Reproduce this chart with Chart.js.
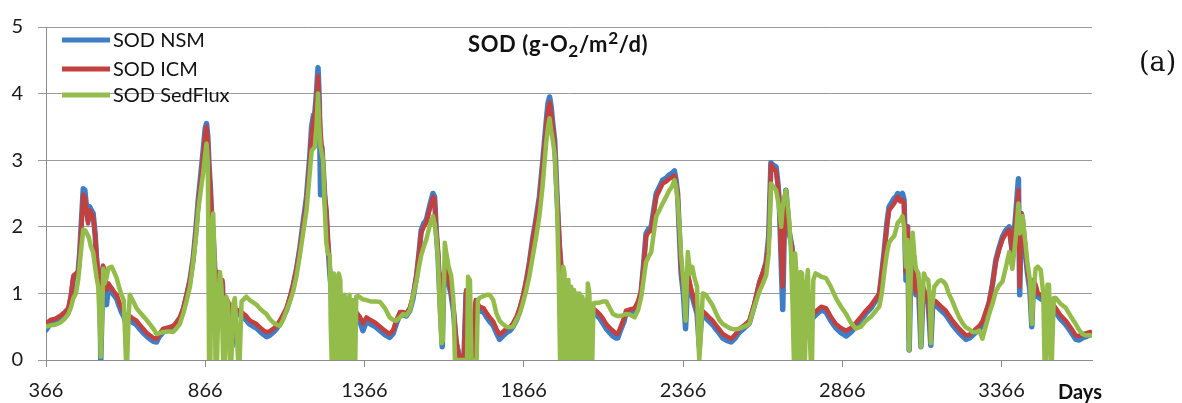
<!DOCTYPE html>
<html>
<head>
<meta charset="utf-8">
<script src="https://cdn.jsdelivr.net/npm/chart.js@4.4.1/dist/chart.umd.min.js"></script>
<style>
html,body{margin:0;padding:0;background:#fff;}
#wrap{position:relative;width:1182px;height:403px;overflow:hidden;background:#fff;}
#c{position:absolute;left:0;top:0;}
#title{position:absolute;left:468px;top:29px;font-family:Lato,"Open Sans",sans-serif;font-weight:bold;font-size:22px;letter-spacing:0.6px;color:#111;white-space:nowrap;line-height:30px;}
#title sub{font-size:0.78em;vertical-align:-0.28em;line-height:0;}
#title sup{font-size:0.78em;vertical-align:0.45em;line-height:0;}
#panel{position:absolute;left:1139px;top:46px;font-family:"DejaVu Serif","Liberation Serif",serif;font-size:27px;line-height:32px;color:#111;white-space:nowrap;}
#days{position:absolute;left:1058px;top:379px;font-family:Lato,"Open Sans",sans-serif;font-weight:bold;font-size:20px;color:#111;white-space:nowrap;}
</style>
</head>
<body>
<div id="wrap">
<canvas id="c" width="1182" height="403"></canvas>
<div id="title">SOD (g-O<sub>2</sub>/m<sup>2</sup>/d)</div>
<div id="panel">(a)</div>
<div id="days">Days</div>
</div>
<script>
// ---- data: [day, SOD] ----
const xTickValues = [366, 866, 1366, 1866, 2366, 2866, 3366];
const yTickValues = [0, 1, 2, 3, 4, 5];
const seriesLabels = ['SOD NSM', 'SOD ICM', 'SOD SedFlux'];

const sodNSM = [
[366,0.45],[380,0.55],[395,0.57],[410,0.60],[425,0.66],[436,0.72],[445,0.95],[452,1.22],[460,1.28],[467,1.32],
[472,1.62],[478,2.15],[483,2.57],[488,2.55],[493,2.30],[498,2.10],[503,2.30],[508,2.25],[514,2.20],[520,1.90],
[525,1.50],[530,1.25],[535,1.10],[538,0.00],[545,1.38],[550,1.30],[556,0.83],[562,1.10],[572,1.02],[580,0.97],
[588,0.92],[595,0.82],[603,0.72],[610,0.66],[617,0.55],[624,0.62],[629,0.60],[640,0.56],[650,0.53],[660,0.47],
[671,0.41],[682,0.36],[692,0.32],[703,0.28],[713,0.27],[720,0.34],[734,0.42],[750,0.45],[765,0.47],[775,0.53],
[786,0.60],[797,0.75],[807,0.95],[818,1.20],[828,1.52],[836,1.92],[844,2.40],[852,2.78],[859,3.12],[866,3.48],
[870,3.55],[874,3.35],[878,2.90],[882,2.60],[886,2.15],[890,1.95],[895,1.45],[900,0.90],[905,1.28],[910,1.25],
[915,0.85],[920,1.15],[925,0.20],[930,0.90],[940,0.80],[950,0.20],[955,0.75],[965,0.70],[974,0.68],[985,0.64],
[995,0.60],[1005,0.54],[1015,0.51],[1027,0.48],[1040,0.42],[1050,0.38],[1058,0.35],[1068,0.37],[1080,0.42],[1090,0.47],
[1100,0.55],[1110,0.64],[1121,0.75],[1132,0.92],[1142,1.12],[1152,1.35],[1163,1.68],[1173,2.05],[1184,2.45],[1194,3.05],
[1200,3.50],[1206,3.68],[1210,3.70],[1215,4.00],[1220,4.39],[1224,3.90],[1228,2.48],[1232,3.20],[1236,2.90],[1241,2.45],
[1246,2.20],[1251,1.75],[1257,1.30],[1262,1.05],[1280,0.95],[1300,0.85],[1320,0.75],[1340,0.66],[1350,0.60],[1361,0.44],
[1372,0.58],[1385,0.54],[1400,0.50],[1415,0.44],[1430,0.38],[1445,0.34],[1456,0.40],[1466,0.55],[1477,0.68],[1487,0.68],
[1497,0.66],[1508,0.74],[1518,0.92],[1529,1.25],[1537,1.60],[1544,1.95],[1552,2.05],[1560,2.10],[1570,2.30],[1581,2.50],
[1586,2.45],[1591,1.95],[1597,1.55],[1602,1.00],[1610,0.20],[1615,1.25],[1623,1.45],[1630,1.15],[1638,0.98],[1645,0.75],
[1654,0.25],[1665,0.01],[1678,0.01],[1685,1.00],[1690,0.95],[1696,0.01],[1705,0.01],[1715,0.85],[1727,0.74],[1740,0.72],
[1750,0.64],[1759,0.58],[1770,0.52],[1780,0.41],[1790,0.31],[1800,0.36],[1811,0.41],[1822,0.44],[1832,0.50],[1843,0.60],
[1853,0.74],[1863,0.92],[1874,1.18],[1884,1.47],[1894,1.82],[1905,2.13],[1915,2.45],[1925,2.95],[1936,3.55],[1942,3.85],
[1947,3.95],[1952,3.80],[1957,3.55],[1963,3.30],[1970,2.50],[1978,1.70],[1985,1.25],[1990,1.15],[2000,1.00],[2010,0.20],
[2015,0.95],[2025,0.90],[2035,0.10],[2040,0.85],[2055,0.80],[2065,0.20],[2070,0.75],[2080,0.72],[2093,0.68],[2104,0.63],
[2115,0.55],[2125,0.47],[2136,0.41],[2146,0.36],[2155,0.33],[2161,0.33],[2170,0.45],[2180,0.57],[2187,0.70],[2200,0.72],
[2214,0.74],[2225,0.85],[2234,1.00],[2242,1.42],[2250,1.90],[2258,1.97],[2266,2.00],[2274,2.25],[2282,2.50],[2292,2.60],
[2302,2.70],[2313,2.73],[2323,2.78],[2331,2.80],[2339,2.84],[2344,2.70],[2349,2.50],[2355,1.85],[2360,1.30],[2367,1.00],
[2374,0.47],[2381,1.25],[2390,1.05],[2402,0.83],[2410,0.70],[2417,0.20],[2425,0.70],[2438,0.63],[2448,0.58],[2459,0.53],
[2470,0.46],[2480,0.40],[2491,0.33],[2505,0.29],[2517,0.27],[2530,0.33],[2543,0.42],[2558,0.48],[2574,0.55],[2590,0.82],
[2606,1.15],[2617,1.30],[2627,1.47],[2635,1.85],[2642,2.96],[2650,2.92],[2658,2.90],[2664,2.65],[2668,2.40],[2674,1.50],
[2679,0.76],[2684,2.00],[2689,2.55],[2695,2.20],[2700,1.90],[2708,1.70],[2715,1.15],[2723,0.95],[2731,0.75],[2740,0.67],
[2750,0.65],[2760,0.62],[2773,0.63],[2785,0.69],[2800,0.75],[2815,0.72],[2830,0.59],[2846,0.48],[2862,0.41],[2878,0.36],
[2893,0.42],[2909,0.50],[2925,0.60],[2940,0.70],[2956,0.78],[2972,0.90],[2982,0.98],[2990,1.30],[2998,1.65],[3006,2.05],
[3013,2.30],[3021,2.36],[3029,2.43],[3035,2.45],[3040,2.50],[3048,2.45],[3055,2.50],[3060,2.40],[3066,1.20],[3071,2.00],
[3076,0.15],[3082,1.55],[3087,1.42],[3097,0.98],[3105,1.15],[3113,0.20],[3120,1.05],[3128,0.93],[3136,0.85],[3144,0.22],
[3150,0.85],[3160,0.82],[3175,0.75],[3191,0.68],[3212,0.53],[3233,0.41],[3254,0.31],[3265,0.33],[3275,0.37],[3286,0.42],
[3296,0.46],[3306,0.53],[3316,0.68],[3327,0.85],[3338,1.15],[3348,1.50],[3358,1.68],[3369,1.85],[3380,1.95],[3390,2.00],
[3400,1.60],[3410,2.15],[3419,2.72],[3423,0.98],[3428,2.20],[3432,2.10],[3440,1.65],[3447,1.32],[3455,1.05],[3461,0.50],
[3466,1.15],[3473,1.08],[3480,0.95],[3489,0.92],[3497,0.90],[3505,0.85],[3515,0.88],[3526,0.80],[3536,0.72],[3550,0.62],
[3568,0.53],[3584,0.42],[3599,0.31],[3610,0.30],[3620,0.33],[3630,0.35],[3645,0.38]
];

const sodICM = [
[366,0.55],[380,0.60],[395,0.62],[410,0.66],[425,0.72],[436,0.78],[445,1.00],[452,1.27],[460,1.30],[467,1.33],
[472,1.60],[478,2.10],[483,2.48],[488,2.45],[493,2.23],[498,2.05],[503,2.25],[508,2.20],[514,2.15],[520,1.90],
[525,1.55],[530,1.30],[535,1.20],[538,0.30],[545,1.42],[550,1.35],[556,1.05],[562,1.15],[572,1.08],[580,1.02],
[588,0.98],[595,0.88],[603,0.78],[610,0.72],[617,0.60],[624,0.68],[629,0.66],[640,0.62],[650,0.59],[660,0.53],
[671,0.47],[682,0.41],[692,0.37],[703,0.33],[713,0.32],[720,0.38],[734,0.47],[750,0.49],[765,0.51],[775,0.57],
[786,0.64],[797,0.78],[807,0.98],[818,1.20],[828,1.52],[836,1.90],[844,2.35],[852,2.70],[859,3.05],[866,3.40],
[870,3.50],[874,3.30],[878,2.90],[882,2.60],[886,2.20],[890,2.00],[895,1.50],[900,1.00],[905,1.32],[910,1.30],
[915,0.90],[920,1.20],[925,0.30],[930,0.95],[940,0.85],[950,0.30],[955,0.80],[965,0.75],[974,0.74],[985,0.70],
[995,0.66],[1005,0.60],[1015,0.57],[1027,0.54],[1040,0.48],[1050,0.44],[1058,0.42],[1068,0.43],[1080,0.47],[1090,0.52],
[1100,0.59],[1110,0.68],[1121,0.78],[1132,0.95],[1142,1.13],[1152,1.35],[1163,1.67],[1173,2.00],[1184,2.40],[1194,2.99],
[1200,3.40],[1206,3.60],[1210,3.70],[1215,3.90],[1220,4.26],[1224,3.80],[1228,3.43],[1232,3.20],[1236,2.94],[1241,2.50],
[1246,2.25],[1251,1.80],[1257,1.37],[1262,1.10],[1280,1.00],[1300,0.90],[1320,0.80],[1340,0.72],[1350,0.66],[1361,0.55],
[1372,0.64],[1385,0.60],[1400,0.56],[1415,0.50],[1430,0.44],[1445,0.39],[1456,0.45],[1466,0.60],[1477,0.72],[1487,0.72],
[1497,0.70],[1508,0.78],[1518,0.95],[1529,1.27],[1537,1.60],[1544,1.91],[1552,2.00],[1560,2.06],[1570,2.25],[1581,2.45],
[1586,2.40],[1591,1.96],[1597,1.60],[1602,1.10],[1610,0.60],[1615,1.30],[1623,1.47],[1630,1.20],[1638,1.03],[1645,0.80],
[1654,0.30],[1665,0.02],[1678,0.02],[1685,1.05],[1690,1.00],[1696,0.02],[1705,0.02],[1715,0.90],[1727,0.80],[1740,0.78],
[1750,0.70],[1759,0.64],[1770,0.58],[1780,0.47],[1790,0.38],[1800,0.42],[1811,0.47],[1822,0.49],[1832,0.55],[1843,0.65],
[1853,0.78],[1863,0.95],[1874,1.20],[1884,1.47],[1894,1.80],[1905,2.10],[1915,2.40],[1925,2.90],[1936,3.48],[1942,3.75],
[1947,3.87],[1952,3.70],[1957,3.50],[1963,3.24],[1970,2.50],[1978,1.76],[1985,1.30],[1990,1.20],[2000,1.05],[2010,0.30],
[2015,1.00],[2025,0.95],[2035,0.20],[2040,0.90],[2055,0.85],[2065,0.30],[2070,0.80],[2080,0.78],[2093,0.74],[2104,0.69],
[2115,0.62],[2125,0.54],[2136,0.48],[2146,0.44],[2155,0.40],[2161,0.39],[2170,0.50],[2180,0.62],[2187,0.74],[2200,0.76],
[2214,0.78],[2225,0.88],[2234,1.03],[2242,1.40],[2250,1.86],[2258,1.92],[2266,1.94],[2274,2.20],[2282,2.45],[2292,2.55],
[2302,2.65],[2313,2.68],[2323,2.72],[2331,2.74],[2339,2.77],[2344,2.65],[2349,2.50],[2355,1.90],[2360,1.37],[2367,1.10],
[2374,0.80],[2381,1.30],[2390,1.10],[2402,0.88],[2410,0.75],[2417,0.30],[2425,0.75],[2438,0.69],[2448,0.64],[2459,0.59],
[2470,0.52],[2480,0.46],[2491,0.39],[2505,0.35],[2517,0.32],[2530,0.38],[2543,0.47],[2558,0.52],[2574,0.59],[2590,0.85],
[2606,1.18],[2617,1.32],[2627,1.47],[2635,1.80],[2642,2.94],[2650,2.86],[2658,2.84],[2664,2.60],[2668,2.40],[2674,1.60],
[2679,1.10],[2684,2.00],[2689,2.50],[2695,2.20],[2700,1.90],[2708,1.70],[2715,1.20],[2723,1.00],[2731,0.80],[2740,0.72],
[2750,0.70],[2760,0.68],[2773,0.69],[2785,0.74],[2800,0.80],[2815,0.78],[2830,0.65],[2846,0.54],[2862,0.48],[2878,0.44],
[2893,0.48],[2909,0.56],[2925,0.65],[2940,0.74],[2956,0.82],[2972,0.93],[2982,1.00],[2990,1.30],[2998,1.62],[3006,2.00],
[3013,2.25],[3021,2.30],[3029,2.35],[3035,2.40],[3040,2.45],[3048,2.38],[3055,2.40],[3060,2.35],[3066,1.32],[3071,2.00],
[3076,0.30],[3082,1.60],[3087,1.47],[3097,1.03],[3105,1.20],[3113,0.40],[3120,1.10],[3128,0.98],[3136,0.90],[3144,0.30],
[3150,0.90],[3160,0.88],[3175,0.81],[3191,0.74],[3212,0.59],[3233,0.47],[3254,0.37],[3265,0.38],[3275,0.42],[3286,0.47],
[3296,0.51],[3306,0.58],[3316,0.72],[3327,0.88],[3338,1.15],[3348,1.47],[3358,1.65],[3369,1.81],[3380,1.90],[3390,1.96],
[3400,1.62],[3410,2.10],[3419,2.55],[3423,1.10],[3428,2.20],[3432,2.10],[3440,1.70],[3447,1.37],[3455,1.10],[3461,0.60],
[3466,1.20],[3473,1.13],[3480,1.00],[3489,0.98],[3497,0.95],[3505,0.90],[3515,0.93],[3526,0.85],[3536,0.78],[3550,0.68],
[3568,0.59],[3584,0.48],[3599,0.37],[3610,0.36],[3620,0.38],[3630,0.40],[3645,0.42]
];

const sodSedFlux = [
[366,0.50],[380,0.52],[395,0.53],[410,0.56],[425,0.62],[436,0.69],[445,0.80],[452,0.93],[460,1.00],[467,1.20],
[475,1.60],[483,1.96],[490,1.94],[493,1.91],[500,1.85],[507,1.70],[514,1.62],[520,1.40],[525,1.23],[530,1.10],
[535,0.50],[538,0.05],[542,0.60],[546,1.37],[550,1.15],[556,1.23],[562,1.38],[572,1.40],[580,1.32],[588,1.23],
[595,1.10],[603,0.98],[610,0.90],[614,0.40],[617,0.00],[621,0.00],[625,0.60],[629,0.98],[640,0.88],[650,0.78],
[660,0.72],[671,0.66],[682,0.60],[692,0.54],[703,0.47],[713,0.39],[720,0.40],[734,0.42],[750,0.43],[765,0.42],
[775,0.47],[786,0.54],[797,0.70],[807,0.88],[818,1.10],[828,1.47],[836,1.80],[844,2.25],[852,2.55],[859,2.79],
[866,3.10],[870,3.25],[874,3.00],[878,0.00],[882,0.00],[887,2.00],[891,2.20],[895,1.50],[898,0.00],[903,0.00],
[908,1.00],[912,1.32],[917,1.10],[922,0.00],[927,0.00],[932,0.95],[937,0.85],[943,0.00],[948,0.00],[954,0.85],
[959,0.93],[964,0.50],[969,0.00],[974,0.00],[980,0.88],[985,0.90],[990,0.93],[995,0.95],[1005,0.90],[1015,0.87],
[1027,0.83],[1040,0.76],[1050,0.72],[1058,0.69],[1068,0.62],[1080,0.56],[1090,0.53],[1100,0.51],[1110,0.60],[1121,0.74],
[1132,0.88],[1142,1.03],[1152,1.25],[1163,1.57],[1173,1.90],[1184,2.25],[1194,2.80],[1200,3.14],[1210,3.20],[1215,3.50],
[1220,4.00],[1224,3.50],[1228,3.20],[1236,2.99],[1241,2.30],[1246,1.76],[1251,1.60],[1257,1.57],[1260,0.50],[1263,0.00],
[1267,0.00],[1270,1.30],[1274,1.10],[1277,0.00],[1281,0.00],[1285,1.30],[1290,1.20],[1294,0.00],[1299,0.00],[1303,0.98],
[1307,0.90],[1311,0.00],[1315,0.00],[1319,0.98],[1324,0.00],[1328,0.90],[1333,0.00],[1337,0.00],[1340,0.95],[1346,0.96],
[1361,0.91],[1372,0.90],[1385,0.88],[1400,0.88],[1415,0.87],[1430,0.78],[1445,0.64],[1456,0.60],[1466,0.59],[1477,0.64],
[1487,0.69],[1497,0.67],[1508,0.74],[1518,0.95],[1529,1.18],[1537,1.40],[1544,1.57],[1552,1.70],[1560,1.81],[1570,2.00],
[1581,2.16],[1586,2.05],[1591,1.86],[1597,1.50],[1602,0.80],[1608,0.25],[1612,0.30],[1618,1.76],[1623,1.60],[1630,1.40],
[1638,1.27],[1645,0.90],[1650,0.00],[1688,0.00],[1691,1.25],[1697,1.20],[1702,0.00],[1718,0.00],[1722,0.90],[1727,0.93],
[1740,0.96],[1750,0.98],[1759,0.98],[1770,0.90],[1780,0.70],[1790,0.59],[1800,0.54],[1811,0.50],[1822,0.49],[1832,0.50],
[1843,0.60],[1853,0.69],[1863,0.85],[1874,1.05],[1884,1.27],[1894,1.55],[1905,1.85],[1915,2.16],[1925,2.60],[1936,3.24],
[1942,3.50],[1947,3.63],[1952,3.45],[1957,3.30],[1963,3.09],[1970,2.40],[1976,1.20],[1980,0.00],[1986,0.00],[1990,1.40],
[1994,1.30],[1998,0.00],[2002,0.00],[2006,1.20],[2010,0.00],[2015,1.10],[2019,0.00],[2024,1.05],[2028,0.00],[2033,1.00],
[2037,0.00],[2041,1.00],[2045,0.00],[2050,0.95],[2054,0.00],[2059,0.90],[2063,0.00],[2067,1.15],[2072,1.00],[2076,0.00],
[2081,0.00],[2085,0.85],[2093,0.86],[2104,0.86],[2115,0.88],[2125,0.88],[2136,0.78],[2146,0.69],[2155,0.67],[2161,0.66],
[2170,0.66],[2180,0.68],[2187,0.69],[2200,0.68],[2214,0.64],[2225,0.75],[2234,0.93],[2242,1.20],[2250,1.47],[2258,1.55],
[2266,1.62],[2274,1.90],[2282,2.16],[2292,2.25],[2302,2.35],[2313,2.45],[2323,2.55],[2331,2.60],[2339,2.70],[2344,2.60],
[2349,2.40],[2355,2.00],[2360,1.57],[2367,1.20],[2374,0.59],[2381,1.62],[2388,1.30],[2395,1.40],[2402,1.23],[2410,1.10],
[2414,0.30],[2417,0.00],[2421,0.30],[2428,1.00],[2438,0.98],[2448,0.90],[2459,0.82],[2470,0.70],[2480,0.60],[2491,0.54],
[2505,0.50],[2517,0.47],[2530,0.46],[2543,0.47],[2558,0.50],[2574,0.54],[2590,0.80],[2606,1.03],[2617,1.15],[2627,1.27],
[2635,1.60],[2642,2.65],[2650,2.60],[2658,2.55],[2664,2.40],[2668,2.25],[2674,2.00],[2679,2.30],[2684,2.45],[2689,2.55],
[2695,2.30],[2700,2.06],[2705,1.60],[2710,0.80],[2714,0.00],[2718,1.60],[2722,1.30],[2726,0.00],[2731,0.00],[2735,1.32],
[2740,1.30],[2745,0.00],[2749,0.00],[2753,1.10],[2758,1.35],[2763,0.50],[2767,0.00],[2771,0.00],[2775,1.20],[2782,1.30],
[2790,1.28],[2800,1.25],[2815,1.23],[2830,1.10],[2846,0.93],[2862,0.80],[2878,0.69],[2893,0.56],[2909,0.47],[2925,0.50],
[2940,0.59],[2956,0.65],[2972,0.74],[2982,0.80],[2990,1.00],[2998,1.32],[3006,1.60],[3013,1.76],[3021,1.82],[3029,1.86],
[3035,1.96],[3040,2.06],[3048,2.10],[3055,2.16],[3060,2.00],[3066,1.40],[3071,1.80],[3076,0.15],[3082,1.50],[3087,1.91],
[3092,1.60],[3097,1.37],[3105,1.30],[3110,1.00],[3113,0.20],[3117,0.80],[3122,1.30],[3128,1.23],[3136,1.20],[3141,0.90],
[3144,0.25],[3148,0.80],[3155,1.10],[3160,1.13],[3168,1.18],[3175,1.20],[3183,1.18],[3191,1.13],[3200,1.00],[3212,0.88],
[3222,0.76],[3233,0.64],[3244,0.55],[3254,0.49],[3265,0.46],[3275,0.42],[3286,0.42],[3296,0.44],[3306,0.32],[3316,0.50],
[3327,0.69],[3338,0.85],[3348,1.03],[3358,1.12],[3369,1.18],[3380,1.40],[3390,1.62],[3400,1.37],[3410,1.80],[3419,2.35],
[3423,1.90],[3428,2.00],[3432,2.16],[3440,1.80],[3447,1.47],[3455,1.20],[3461,0.54],[3466,1.00],[3473,1.37],[3480,1.40],
[3489,1.35],[3497,1.00],[3501,0.00],[3505,0.00],[3510,1.13],[3515,1.13],[3520,0.00],[3524,0.00],[3530,0.93],[3536,0.93],
[3550,0.85],[3568,0.78],[3584,0.65],[3599,0.54],[3610,0.45],[3620,0.39],[3630,0.37],[3645,0.37]
];

const seriesColors = ['#3F7DC4', '#C2413F', '#93BC4B'];
const seriesWidths = [5.5, 4.5, 4.5];
const allSeries = [sodNSM, sodICM, sodSedFlux];

const FONT = 'Lato, "Open Sans", sans-serif';

// legend drawn inside the plot area (top-left), like the reference
const insideLegend = {
  id: 'insideLegend',
  afterDatasetsDraw(chart) {
    const ctx = chart.ctx;
    const area = chart.chartArea;
    const x0 = area.left + 16, x1 = area.left + 64;
    const rows = [area.top + 13, area.top + 42, area.top + 68];
    ctx.save();
    chart.data.datasets.forEach((ds, i) => {
      const y = rows[i];
      ctx.strokeStyle = ds.borderColor;
      ctx.lineWidth = 5;
      ctx.lineCap = 'butt';
      ctx.beginPath(); ctx.moveTo(x0, y); ctx.lineTo(x1, y); ctx.stroke();
      ctx.fillStyle = '#111';
      ctx.font = '20px ' + FONT;
      ctx.textBaseline = 'middle';
      ctx.textAlign = 'left';
      ctx.fillText(ds.label, x1 + 3, y + 1);
    });
    ctx.restore();
  }
};

new Chart(document.getElementById('c').getContext('2d'), {
  type: 'line',
  data: {
    datasets: allSeries.map((s, i) => ({
      label: seriesLabels[i],
      data: s.map(p => ({x: p[0], y: p[1]})),
      borderColor: seriesColors[i],
      backgroundColor: seriesColors[i],
      borderWidth: seriesWidths[i],
      order: 3 - i
    }))
  },
  options: {
    responsive: false,
    animation: false,
    devicePixelRatio: 1,
    elements: {
      point: {radius: 0, hoverRadius: 0},
      line: {tension: 0, borderJoinStyle: 'round', borderCapStyle: 'round'}
    },
    layout: {padding: {top: 20, right: 90, left: 0, bottom: 0}},
    plugins: {legend: {display: false}, tooltip: {enabled: false}},
    scales: {
      x: {
        type: 'linear', min: 366, max: 3650,
        afterBuildTicks(scale) { scale.ticks = xTickValues.map(v => ({value: v})); },
        afterFit(scale) { scale.height = 43; },
        grid: {drawOnChartArea: false, drawTicks: true, tickLength: 7, color: '#8c8c8c'},
        border: {color: '#8c8c8c', width: 1},
        ticks: {autoSkip: false, maxRotation: 0, padding: 12, color: '#1a1a1a',
                font: {family: FONT, size: 20}, callback: v => String(v)}
      },
      y: {
        min: 0, max: 5,
        afterBuildTicks(scale) { scale.ticks = yTickValues.map(v => ({value: v})); },
        afterFit(scale) { scale.width = 46; },
        grid: {color: '#9a9a9a', tickLength: 8, lineWidth: 1},
        border: {color: '#8c8c8c', width: 1},
        ticks: {padding: 15, color: '#1a1a1a', font: {family: FONT, size: 20}}
      }
    }
  },
  plugins: [insideLegend]
});
</script>
</body>
</html>
